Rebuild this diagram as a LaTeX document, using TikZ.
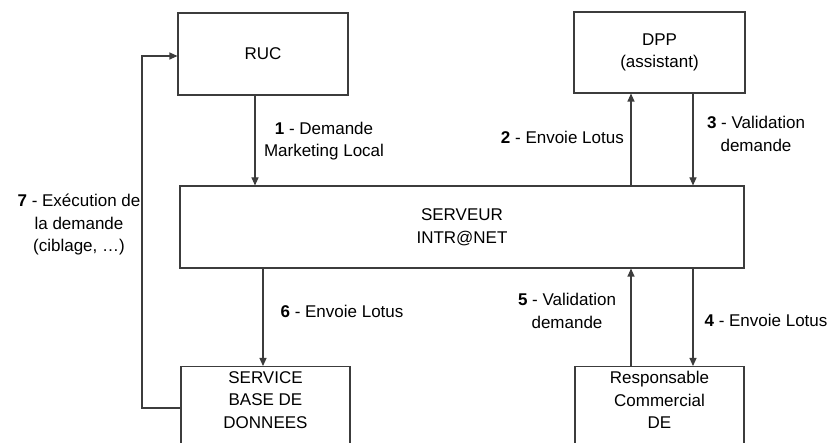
\documentclass[tikz,border=0pt]{standalone}
\usepackage{fontspec}
\setmainfont{Liberation Sans}
\usetikzlibrary{arrows.meta,positioning}
\definecolor{dkline}{RGB}{60,60,60}
\tikzstyle{arrow} = [line width=1.1pt,-{Triangle[width=7pt,length=8pt]},color=dkline]
\tikzstyle{acteur} = [rectangle, draw=dkline, line width=1.1pt, text centered, align=center, inner sep=0pt]
\tikzstyle{etiq} = [align=center, inner sep=0pt, font=\fontsize{17}{22.5}\selectfont]

\begin{document}
\begin{tikzpicture}[x=1pt, y=-1pt, font=\fontsize{17}{22.5}\selectfont]
\useasboundingbox (0,0) rectangle (833,443);
\clip (0,0) rectangle (833,443);

% Acteurs du haut
\node (ruc) [acteur, minimum width=170pt, minimum height=82pt] at (263,54) {RUC};
\node (dpp) [acteur, minimum width=171pt, minimum height=81pt] at (659.5,52.5) {DPP\\(assistant)};

% Serveur central
\node (serveur) [acteur, minimum width=564pt, minimum height=82pt] at (462,227) {SERVEUR\\INTR@NET};

% Acteurs du bas (coupes par le bord)
\node (sbd) [acteur, minimum width=169pt, minimum height=110pt, anchor=north] at (265.5,366) {};
\node (sbdtxt) [etiq, anchor=north] at ([yshift=-5pt]sbd.north) {SERVICE\\BASE DE\\DONNEES};
\node (resp) [acteur, minimum width=169pt, minimum height=110pt, anchor=north] at (659.5,366) {};
\node (resptxt) [etiq, anchor=north] at ([yshift=-5pt]resp.north) {Responsable\\Commercial\\DE};

% Points de passage de la boucle 7
\coordinate (c7a) at (142,408);
\coordinate (c7b) at (142,56);

% Fleches
\draw[arrow] (ruc.south -| 255,0) -- (serveur.north -| 255,0);
\draw[arrow] (serveur.north -| 631,0) -- (dpp.south -| 631,0);
\draw[arrow] (dpp.south -| 693,0) -- (serveur.north -| 693,0);
\draw[arrow] (serveur.south -| 693,0) -- (resp.north -| 693,0);
\draw[arrow] (resp.north -| 631,0) -- (serveur.south -| 631,0);
\draw[arrow] (serveur.south -| 263,0) -- (sbd.north -| 263,0);
\draw[arrow] (sbd.west |- c7a) -- (c7a) -- (c7b) -- (ruc.west |- c7b);

% Libelles
\node (l1) [etiq] at (324,141) {\textbf{1} - Demande\\Marketing Local};
\node (l2) [etiq, anchor=east] at (624,137) {\textbf{2} - Envoie Lotus};
\node (l3) [etiq] at (756,134) {\textbf{3} - Validation\\demande};
\node (l4) [etiq] at (766,320) {\textbf{4} - Envoie Lotus};
\node (l5) [etiq] at (567,311) {\textbf{5} - Validation\\demande};
\node (l6) [etiq] at (342,311) {\textbf{6} - Envoie Lotus};
\node (l7) [etiq] at (79,225) {\textbf{7} - Exécution de\\la demande\\(ciblage, \dots)};
\end{tikzpicture}
\end{document}
